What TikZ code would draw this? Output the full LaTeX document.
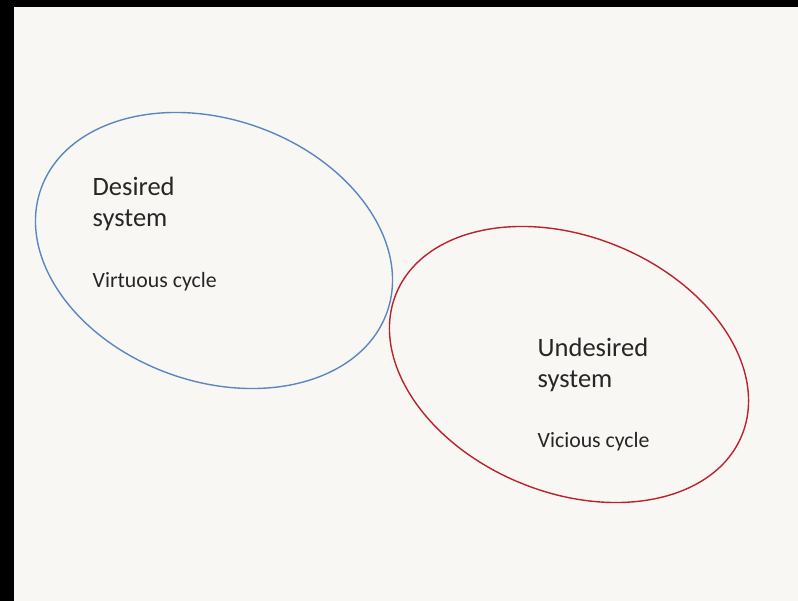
\documentclass[tikz,border=0pt]{standalone}
\usepackage{fontspec}
\setmainfont{Carlito}
\usetikzlibrary{shapes.geometric}
\definecolor{bgpaper}{HTML}{F9F7F4}
\definecolor{ringblue}{HTML}{5B87C0}
\definecolor{ringred}{HTML}{B8232E}
\tikzset{
  ring/.style={ellipse, draw, line width=1.4pt, inner sep=0pt, outer sep=0pt},
  headtext/.style={anchor=base west, inner sep=0pt, text=black!85, font=\fontsize{26.5}{31}\selectfont},
  subtext/.style={anchor=base west, inner sep=0pt, text=black!85, font=\fontsize{21.8}{26}\selectfont}
}
\begin{document}
\begin{tikzpicture}[x=1pt,y=-1pt]
\useasboundingbox (0,0) rectangle (798,601);
\fill[black] (0,0) rectangle (798,601);
\fill[bgpaper] (14,7) rectangle (798,601);
\node[ring, draw=ringblue, minimum width=367.4pt, minimum height=262pt, rotate=-19.7] (desired) at (214,250.5) {};
\node[ring, draw=ringred, minimum width=373.6pt, minimum height=256pt, rotate=-22.3] (undesired) at (569,364.5) {};
\node[headtext] (d1) at (92.5,196) {Desired};
\node[headtext] (d2) at (92.5,227) {system};
\node[subtext] (d3) at (92.5,287.3) {Virtuous cycle};
\node[headtext] (u1) at (537.5,356.7) {Undesired};
\node[headtext] (u2) at (537.5,387.5) {system};
\node[subtext] (u3) at (537.5,447.3) {Vicious cycle};
\end{tikzpicture}
\end{document}
